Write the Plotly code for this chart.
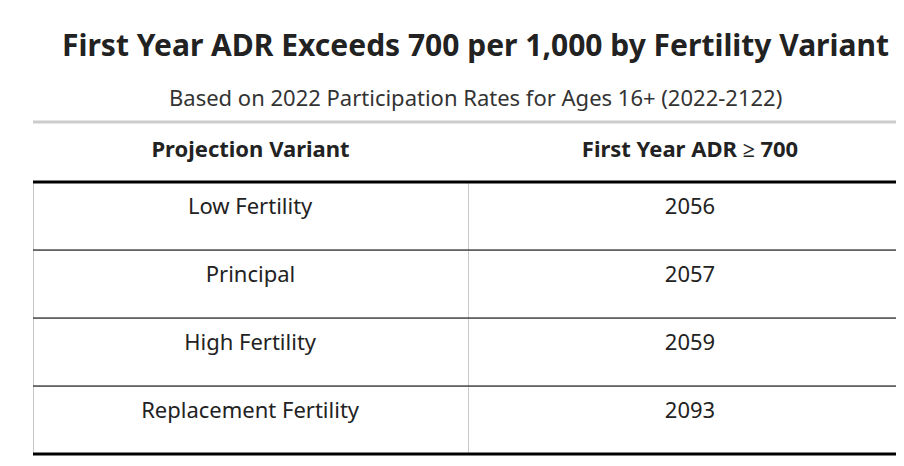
"""ADR threshold table by fertility variant."""

import plotly.graph_objects as go

variants = ["Low Fertility", "Principal", "High Fertility", "Replacement Fertility"]
first_year = ["2056", "2057", "2059", "2093"]
headers = ["<b>Projection Variant</b>", "<b>First Year ADR ≥ 700</b>"]

W, H = 904, 466
FONT = "Noto Sans"
SHIFT = 8  # page offset seen in the render


def fy(px):
    return 1 - (px - SHIFT) / H


fig = go.Figure(
    go.Table(
        domain=dict(x=[25 / W, 1], y=[fy(454), fy(125)]),
        columnwidth=[435, 444],
        header=dict(
            values=headers,
            height=57,
            fill_color="white",
            line=dict(color="white", width=1),
            font=dict(family=FONT, size=22, color="#222"),
            align="center",
        ),
        cells=dict(
            values=[["<br>" + v for v in variants], ["<br>" + v for v in first_year]],
            height=68,
            fill_color="white",
            line=dict(color="#c8c8c8", width=1),
            font=dict(family=FONT, size=22, color="#222"),
            align="center",
        ),
    )
)

# horizontal rules
rules = [(122, "#cccccc", 3), (182, "black", 3), (250, "black", 1.2),
         (318, "black", 1.2), (386, "black", 1.2), (454, "black", 3)]
for y, c, w in rules:
    fig.add_shape(type="line", xref="paper", yref="paper", x0=25 / W, x1=1,
                  y0=fy(y), y1=fy(y), line=dict(color=c, width=w))

fig.add_annotation(text="<b>First Year ADR Exceeds 700 per 1,000 by Fertility Variant</b>",
                   xref="paper", yref="paper", x=467 / W, y=fy(45), yanchor="middle",
                   showarrow=False, font=dict(family=FONT, size=30, color="#222"))
fig.add_annotation(text="Based on 2022 Participation Rates for Ages 16+ (2022-2122)",
                   xref="paper", yref="paper", x=467 / W, y=fy(97), yanchor="middle",
                   showarrow=False, font=dict(family=FONT, size=22, color="#333"))

fig.update_layout(width=W, height=H, margin=dict(l=0, r=0, t=0, b=0),
                  paper_bgcolor="white", plot_bgcolor="white")
fig.write_html("out.html")
